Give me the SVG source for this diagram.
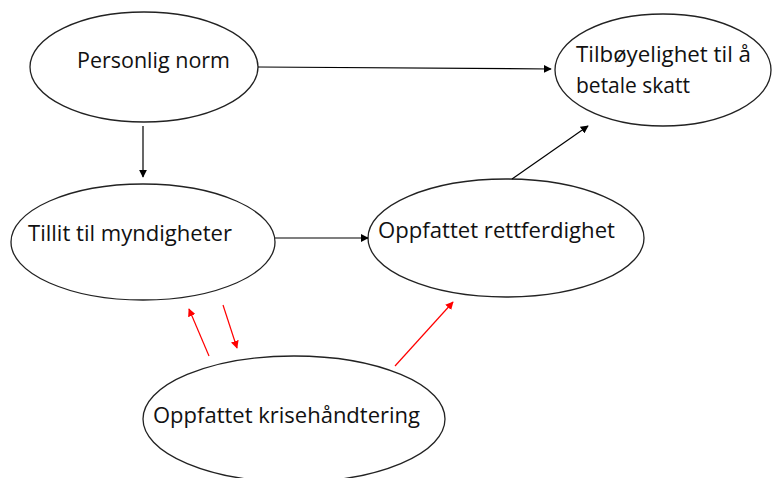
<svg xmlns="http://www.w3.org/2000/svg" width="772" height="478" viewBox="0 0 772 478">
<defs>
<style>
.node{fill:#fff;stroke:#222;stroke-width:1.3}
.lbl{font-family:"Open Sans","Liberation Sans",sans-serif;font-size:21px;fill:#111}
.blk{stroke:#000;stroke-width:1.2;fill:none}
.red{stroke:#f00;stroke-width:1.2;fill:none}
</style>
<marker id="ab" viewBox="0 0 10 10" refX="9" refY="5" markerWidth="8" markerHeight="8" markerUnits="userSpaceOnUse" orient="auto"><path d="M0,0 L10,5 L0,10 z" fill="#000"/></marker>
<marker id="ar" viewBox="0 0 10 10" refX="9" refY="5" markerWidth="8" markerHeight="8" markerUnits="userSpaceOnUse" orient="auto"><path d="M0,0 L10,5 L0,10 z" fill="#f00"/></marker>
</defs>
<rect width="772" height="478" fill="#fff"/>
<g id="n1"><ellipse class="node" cx="144" cy="67" rx="114" ry="55"/><text class="lbl" x="77" y="68" textLength="153" lengthAdjust="spacingAndGlyphs">Personlig norm</text></g>
<g id="n2"><ellipse class="node" cx="663" cy="70" rx="108" ry="56"/><text class="lbl" x="576" y="62" textLength="175" lengthAdjust="spacingAndGlyphs">Tilbøyelighet til å</text><text class="lbl" x="576" y="93" textLength="114" lengthAdjust="spacingAndGlyphs">betale skatt</text></g>
<g id="n3"><ellipse class="node" cx="143" cy="242" rx="132" ry="58"/><text class="lbl" x="28" y="241" textLength="204" lengthAdjust="spacingAndGlyphs">Tillit til myndigheter</text></g>
<g id="n4"><ellipse class="node" cx="506" cy="238" rx="138" ry="59"/><text class="lbl" x="378" y="238" textLength="237" lengthAdjust="spacingAndGlyphs">Oppfattet rettferdighet</text></g>
<g id="n5"><ellipse class="node" cx="294" cy="419" rx="151" ry="63"/><text class="lbl" x="153" y="423" textLength="267" lengthAdjust="spacingAndGlyphs">Oppfattet krisehåndtering</text></g>
<g id="edges">
<line class="blk" x1="258" y1="67" x2="551" y2="69" marker-end="url(#ab)"/>
<line class="blk" x1="143" y1="126" x2="143" y2="177" marker-end="url(#ab)"/>
<line class="blk" x1="275" y1="238" x2="368" y2="238" marker-end="url(#ab)"/>
<line class="blk" x1="512" y1="179" x2="588" y2="126" marker-end="url(#ab)"/>
<line class="red" x1="209" y1="356" x2="189" y2="309" marker-end="url(#ar)"/>
<line class="red" x1="223" y1="305" x2="237" y2="348" marker-end="url(#ar)"/>
<line class="red" x1="395" y1="366" x2="453" y2="302" marker-end="url(#ar)"/>
</g>
</svg>
